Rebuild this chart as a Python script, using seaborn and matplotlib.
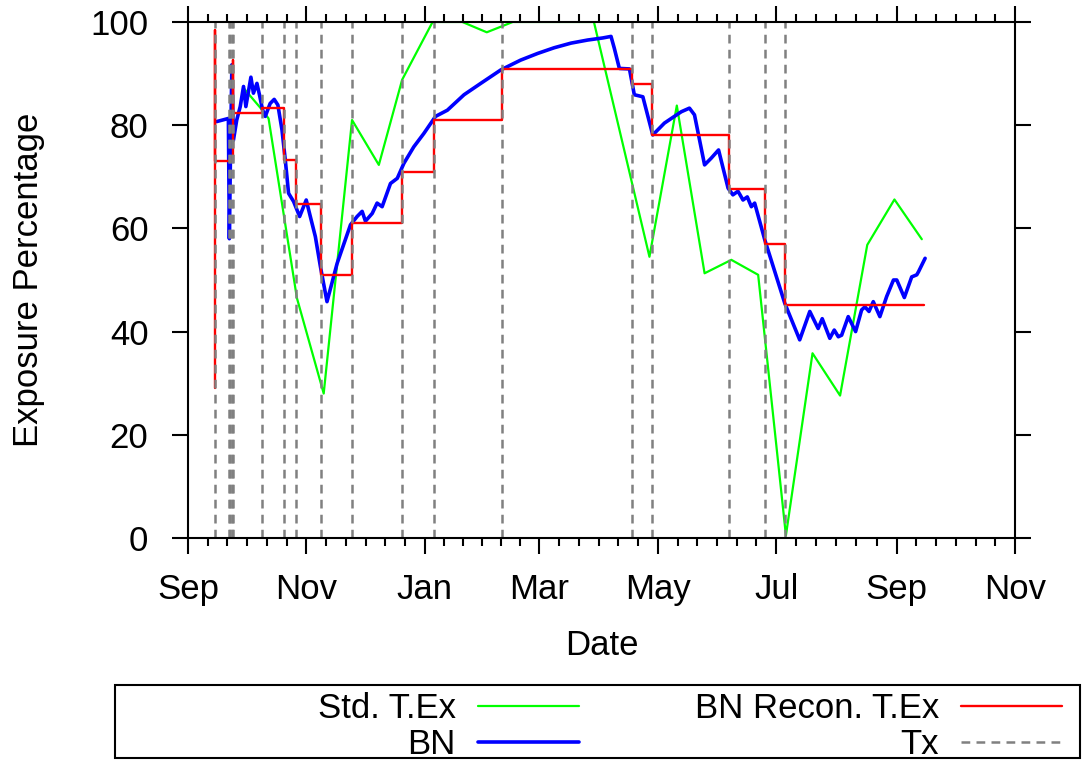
import numpy as np
import pandas as pd
import matplotlib
matplotlib.use("Agg")
import matplotlib.pyplot as plt
import matplotlib.dates as mdates
from matplotlib.patches import Rectangle
import seaborn as sns

# --- data: days since 1 Sep ---
start = pd.Timestamp("2014-09-01")
end = pd.Timestamp("2015-11-01")

bn_days = [14.8, 20.8, 21.3, 21.9, 22.6, 23.4, 25.1, 26.9, 28.6, 29.8, 32.4, 33.7, 35.5,
           36.8, 38.4, 39.8, 42.3, 44.4, 46.3, 48.4, 50.1, 51.8, 54.4, 57.5, 60.9, 63.0,
           65.6, 68.2, 71.6, 76.8, 83.7, 87.1, 89.7, 91.4, 94.9, 97.4, 100.0, 104.3,
           107.8, 111.2, 116.3, 121.5, 127.5, 133.6, 142.2, 150.8, 161.1, 171.3, 180.1,
           188.6, 197.3, 205.9, 213.6, 217.9, 219.6, 222.2, 227.4, 229.9, 234.3, 239.4,
           245.4, 254.1, 258.3, 260.9, 266.1, 269.5, 273.3, 278.2, 280.7, 283.3, 285.9,
           288.1, 290.2, 291.9, 297.1, 307.4, 315.1, 320.3, 324.6, 326.7, 330.6, 332.9,
           335.0, 336.7, 340.1, 343.9, 347.0, 348.7, 350.8, 353.0, 356.4, 359.9, 363.4,
           365.1, 369.0, 372.8, 375.4, 376.3, 379.7]
bn_vals = [80.7, 81.3, 58.0, 75.0, 91.7, 77.1, 81.0, 83.6, 87.5, 83.6, 89.3, 86.2, 88.1,
           85.9, 83.0, 81.7, 84.2, 85.0, 83.9, 79.1, 73.3, 66.8, 65.2, 62.3, 65.5, 62.3,
           58.4, 52.6, 45.8, 53.2, 60.7, 62.3, 63.3, 61.4, 62.9, 64.9, 64.2, 68.7,
           69.7, 72.6, 75.8, 78.4, 81.7, 82.9, 85.9, 88.1, 90.7, 92.6, 93.9,
           95.0, 95.9, 96.5, 96.9, 97.2, 94.9, 91.0, 90.9, 85.9, 85.5, 78.1,
           80.4, 82.6, 83.3, 82.0, 72.3, 73.6, 75.2, 67.8, 66.5, 67.2, 65.5,
           66.1, 64.2, 64.9, 57.8, 45.5, 38.4, 43.9, 40.6, 42.5, 38.7, 40.3,
           39.0, 39.3, 42.9, 40.0, 44.2, 44.8, 43.9, 45.8, 42.9, 46.8, 50.0,
           50.0, 46.6, 50.6, 51.0, 51.6, 54.2]

std_days = [28.6, 38.1, 41.5, 56.1, 69.9, 84.5, 98.3, 110.3, 126.0, 141.3, 153.9, 167.3,
            209.1, 237.7, 251.8, 266.1, 279.9, 293.7, 308.0, 321.7, 335.9, 349.9, 363.9, 378.0]
std_vals = [87.2, 83.0, 81.3, 46.5, 28.0, 81.0, 72.3, 88.8, 100.0, 100.0, 98.0, 100.0,
            100.0, 54.5, 83.8, 51.3, 53.9, 51.0, 0.5, 35.8, 27.6, 56.8, 65.6, 57.9]

recon_days = [13.9, 13.9, 13.9, 23.2, 23.2, 38.2, 49.6, 55.8, 68.7, 84.7, 110.0, 126.5,
              161.6, 228.8, 239.1, 278.8, 297.4, 307.7, 379.0]
recon_vals = [29.0, 98.5, 73.0, 92.6, 82.4, 83.4, 73.3, 64.8, 51.0, 61.0, 71.0, 81.0,
              90.9, 87.9, 78.1, 67.7, 57.0, 45.2, 45.2]

tx_days = [13.9, 20.9, 21.7, 22.5, 23.2, 38.2, 49.6, 55.8, 68.7, 84.7, 110.0, 126.5,
           161.6, 228.8, 239.1, 278.8, 297.4, 307.7]


def to_dates(days):
    return start + pd.to_timedelta(days, unit="D")


std = pd.DataFrame({"date": to_dates(std_days), "pct": std_vals})
bn = pd.DataFrame({"date": to_dates(bn_days), "pct": bn_vals})
recon = pd.DataFrame({"date": to_dates(recon_days), "pct": recon_vals})

sns.set_style("ticks")
plt.rcParams["font.family"] = ["Liberation Sans", "DejaVu Sans"]
plt.rcParams["font.size"] = 25
plt.rcParams["text.color"] = "black"
plt.rcParams["axes.labelcolor"] = "black"
plt.rcParams["xtick.color"] = "black"
plt.rcParams["ytick.color"] = "black"

fig = plt.figure(figsize=(10.83, 7.6), dpi=100)
ax = fig.add_axes([0.1736, 0.2921, 0.7636, 0.679])

sns.lineplot(data=std, x="date", y="pct", ax=ax, color="#00ff00", lw=1.6,
             estimator=None, sort=False, label="Std. T.Ex")
sns.lineplot(data=bn, x="date", y="pct", ax=ax, color="#0000ff", lw=2.6,
             estimator=None, sort=False, label="BN")
sns.lineplot(data=recon, x="date", y="pct", ax=ax, color="#ff0000", lw=1.7,
             estimator=None, sort=False, drawstyle="steps-post", label="BN Recon. T.Ex")
for i, d in enumerate(to_dates(tx_days)):
    ax.axvline(d, color="#808080", lw=1.8, dashes=(3.5, 2.5),
               label="Tx" if i == 0 else None)

if ax.get_legend() is not None:
    ax.get_legend().remove()

# axes, gnuplot look
ax.set_xlim(start, end)
ax.set_ylim(0, 100)
ax.set_yticks(range(0, 101, 20))
ax.xaxis.set_major_locator(mdates.MonthLocator(bymonth=[1, 3, 5, 7, 9, 11]))
ax.xaxis.set_major_formatter(mdates.DateFormatter("%b"))
majors = mdates.date2num(pd.date_range(start, end, freq="2MS"))
minors = np.concatenate([np.linspace(a, b, 7)[1:-1] for a, b in zip(majors[:-1], majors[1:])])
ax.set_xticks(minors, minor=True)

for s in ax.spines.values():
    s.set_visible(True)
    s.set_linewidth(1.5)
    s.set_color("black")
ax.tick_params(which="both", direction="out", top=True, right=True, width=1.5,
               color="black", labelsize=25)
ax.tick_params(which="major", length=11.5)
ax.tick_params(which="minor", length=5.8)
ax.tick_params(axis="x", which="major", pad=14)
ax.tick_params(axis="y", which="major", pad=17)

ax.set_xlabel("Date", fontsize=25)
ax.set_ylabel("Exposure Percentage", fontsize=25)
ax.xaxis.set_label_coords(0.5, -0.177)
ax.yaxis.set_label_coords(-0.173, 0.5)

handles, labels = ax.get_legend_handles_labels()
fig.legend(handles, labels, loc="center", bbox_to_anchor=(0.637, 0.0441), ncol=2,
           markerfirst=False, frameon=False, fontsize=25, handlelength=2.9,
           handletextpad=0.65, columnspacing=3.33, labelspacing=0.1)
fig.add_artist(Rectangle((115 / 1083, 0.0026), (1080 - 115) / 1083, 0.0961,
                         transform=fig.transFigure, fill=False, lw=1.5, ec="black"))

fig.savefig("out.png", dpi=100)
